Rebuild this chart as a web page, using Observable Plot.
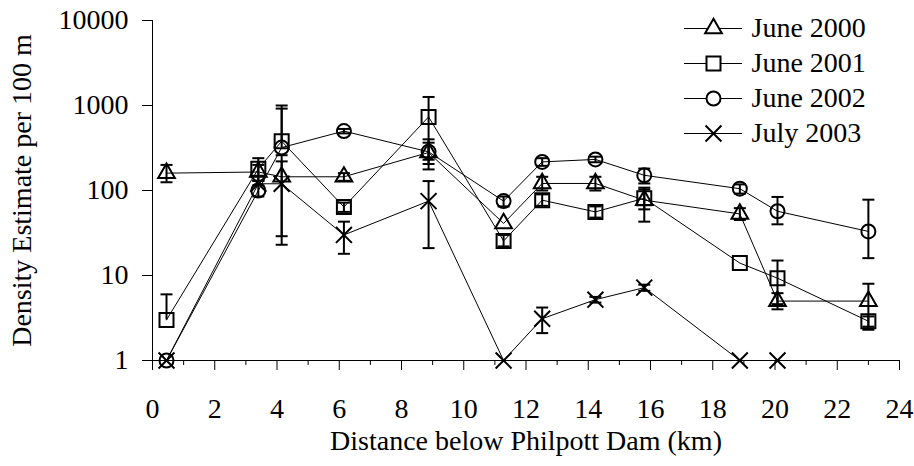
<!DOCTYPE html>
<html><head><meta charset="utf-8">
<script src="https://cdn.jsdelivr.net/npm/d3@7"></script>
<script src="https://cdn.jsdelivr.net/npm/@observablehq/plot@0.6"></script>
<style>
body{margin:0;background:#fff;}
#chart{position:relative;width:914px;height:466px;}
#legend{position:absolute;left:680px;top:10px;}
</style></head><body>
<div id="chart"><div id="legend"></div></div>
<script>
// Distance below dam (km) of each sampling site
const km = [0.45, 3.4, 4.15, 6.15, 8.87, 11.28, 12.52, 14.23, 15.8, 18.87, 20.08, 23.0];
const seriesNames = ["June 2000", "June 2001", "June 2002", "July 2003"];

const june2000   = [160, 165, 145, 145, 280, 41, 121, 121, 77, 53, 5, 5];
const june2000Hi = [200, 200, 260, 160, 400, null, 145, 145, 108, 62, 6.2, 8];
const june2000Lo = [125, 130, 29, 130, 177, null, 100, 100, 43, 45, 4, 2.3];

const june2001   = [3, 180, 380, 64, 734, 25.5, 77, 56, 81, 14, 9.3, 2.9];
const june2001Hi = [6, 240, 1000, 72, 1260, 30, 90, 65, 103, null, 15, 3.3];
const june2001Lo = [null, 130, null, 56, 205, 22, 66, 48, 60, null, 4.6, 2.5];

const june2002   = [1, 100, 320, 500, 285, 75, 217, 232, 151, 105, 57, 33];
const june2002Hi = [null, 115, 920, 530, 365, 85, 240, 250, 181, 118, 84, 78];
const june2002Lo = [null, 85, null, 470, 230, 65, 195, 215, 121, 92, 40, 16];

const july2003   = [1, 120, 120, 30, 75, 1, 3.1, 5.2, 7.2, 1, 1, null];
const july2003Hi = [null, null, 220, 43, 129, null, 4.2, 5.6, 7.8, null, null, null];
const july2003Lo = [null, null, 23, 18, 21, null, 2.1, 4.8, 6.6, null, null, null];

const yTicks = [1, 10, 100, 1000, 10000];
const xMajorTicks = [0, 2, 4, 6, 8, 10, 12, 14, 16, 18, 20, 22, 24];
const xMinorTicks = [1, 3, 5, 7, 9, 11, 13, 15, 17, 19, 21, 23];

const seriesData = [
  [june2000, june2000Hi, june2000Lo],
  [june2001, june2001Hi, june2001Lo],
  [june2002, june2002Hi, june2002Lo],
  [july2003, july2003Hi, july2003Lo]
];
const markerStyle = [
  {symbol: "triangle", r: 6.2},
  {symbol: "square", r: 7.9},
  {symbol: "circle", r: 7},
  {symbol: "times", r: 7.3}
];

const rows = seriesNames.map((name, s) => km.map((k, i) => ({
  series: name,
  km: k,
  value: seriesData[s][0][i],
  hi: seriesData[s][1][i],
  lo: seriesData[s][2][i]
})));
const allRows = rows.flat();

const capSymbol = {draw(context, size) {
  const w = Math.sqrt(size / Math.PI);
  context.moveTo(-w, 0); context.lineTo(w, 0);
}};

const FONT = "Liberation Serif";
const FS = "28px";

const marks = [
  Plot.ruleY([1], {stroke: "black", strokeWidth: 1}),
  Plot.ruleX([0], {stroke: "black", strokeWidth: 1}),
  Plot.axisY({ticks: yTicks, tickFormat: d => String(d), tickSize: 10, tickPadding: 14, label: null, stroke: "black"}),
  Plot.axisX({ticks: xMajorTicks, tickFormat: d => String(d), tickSize: 10, tickPadding: 28, label: null, stroke: "black"}),
  Plot.axisX({ticks: xMinorTicks, tickFormat: () => "", tickSize: 5, label: null, stroke: "black"}),
  // series lines
  ...rows.map(r => Plot.line(r, {x: "km", y: "value", stroke: "black", strokeWidth: 1})),
  // error bars
  Plot.ruleX(allRows.filter(d => d.value != null && (d.hi != null || d.lo != null)), {
    x: "km", y1: d => d.lo ?? d.value, y2: d => d.hi ?? d.value, stroke: "black", strokeWidth: 2
  }),
  Plot.dot(allRows.filter(d => d.hi != null), {x: "km", y: "hi", symbol: capSymbol, r: 6, stroke: "black", strokeWidth: 2, fill: "none"}),
  Plot.dot(allRows.filter(d => d.lo != null), {x: "km", y: "lo", symbol: capSymbol, r: 6, stroke: "black", strokeWidth: 2, fill: "none"}),
  // markers
  ...rows.map((r, s) => Plot.dot(r.filter(d => d.value != null), {
    x: "km", y: "value", symbol: markerStyle[s].symbol, r: markerStyle[s].r,
    fill: "none", stroke: "black", strokeWidth: 2
  })),
  // axis titles
  Plot.text(["Distance below Philpott Dam (km)"], {text: d => d, frameAnchor: "bottom", dy: 81, lineAnchor: "middle", textAnchor: "middle", fill: "black"}),
  Plot.text(["Density Estimate per 100 m"], {text: d => d, frameAnchor: "left", dx: -130, rotate: -90, lineAnchor: "middle", textAnchor: "middle", fill: "black"})
];

const chart = Plot.plot({
  width: 914,
  height: 466,
  marginLeft: 152,
  marginRight: 15,
  marginTop: 20,
  marginBottom: 106,
  style: {fontFamily: FONT, fontSize: FS, color: "black", background: "white", overflow: "visible"},
  x: {domain: [0, 24], label: null},
  y: {type: "log", domain: [1, 10000], label: null},
  marks
});
document.getElementById("chart").prepend(chart);

// Legend
const legend = Plot.plot({
  width: 230,
  height: 145,
  margin: 0,
  style: {fontFamily: FONT, fontSize: FS, color: "black", background: "transparent", overflow: "visible"},
  x: {domain: [0, 1], range: [4, 62], axis: null},
  y: {type: "point", domain: seriesNames, range: [17, 124], padding: 0, axis: null},
  marks: [
    Plot.ruleY(seriesNames, {y: d => d, x1: 0, x2: 1, stroke: "black", strokeWidth: 1}),
    ...seriesNames.map((n, s) => Plot.dot([n], {x: 0.5, y: d => d, symbol: markerStyle[s].symbol, r: markerStyle[s].r, fill: "white", stroke: "black", strokeWidth: 2})),
    Plot.text(seriesNames, {x: 1, y: d => d, text: d => d, dx: 9, textAnchor: "start", fill: "black"})
  ]
});
document.getElementById("legend").appendChild(legend);
</script>
</body></html>
